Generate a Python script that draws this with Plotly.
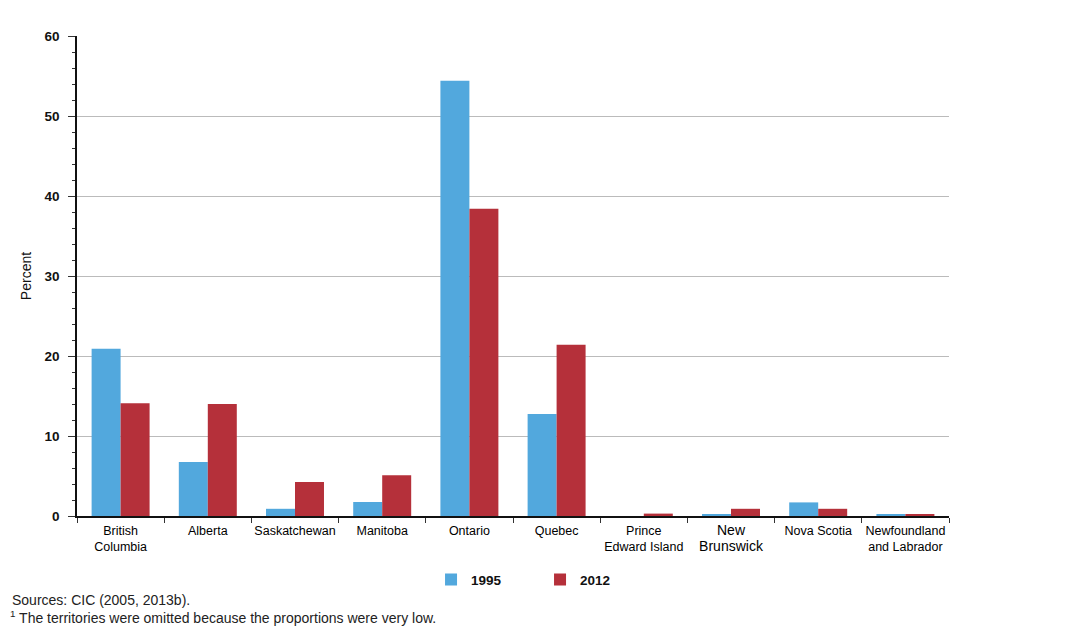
import plotly.graph_objects as go

provinces = ["British Columbia", "Alberta", "Saskatchewan", "Manitoba", "Ontario",
             "Quebec", "Prince Edward Island", "New Brunswick", "Nova Scotia",
             "Newfoundland and Labrador"]
tick_labels = ["British<br>Columbia", "Alberta", "Saskatchewan", "Manitoba", "Ontario",
               "Quebec", "Prince<br>Edward Island",
               "<span style='font-size:14px'>New<br>Brunswick</span>",
               "Nova Scotia", "Newfoundland<br>and Labrador"]
values_1995 = [20.9, 6.75, 0.9, 1.75, 54.4, 12.75, 0.0, 0.2, 1.7, 0.2]
values_2012 = [14.1, 14.0, 4.25, 5.1, 38.4, 21.4, 0.3, 0.9, 0.9, 0.2]
y_ticks = [0, 10, 20, 30, 40, 50, 60]

FONT = "Liberation Sans, Arial, Helvetica, sans-serif"

fig = go.Figure()
fig.add_trace(go.Bar(name="1995", x=provinces, y=values_1995,
                     marker=dict(color="#52a8dd", line=dict(width=0))))
fig.add_trace(go.Bar(name="2012", x=provinces, y=values_2012,
                     marker=dict(color="#b5303a", line=dict(width=0))))

fig.update_layout(
    width=1080, height=636,
    margin=dict(l=77, r=131, t=36, b=120),
    paper_bgcolor="white", plot_bgcolor="white",
    barmode="group", bargap=0.335, bargroupgap=0,
    font=dict(family=FONT, color="#111111"),
    showlegend=True,
    legend=dict(orientation="h", x=0.406, xanchor="left", y=-0.133, yanchor="middle",
                font=dict(size=13.5, family=FONT, weight="bold"),
                entrywidth=64, itemwidth=30),
)
fig.update_xaxes(
    categoryorder="array", categoryarray=provinces,
    tickmode="array", tickvals=provinces, ticktext=tick_labels,
    tickson="boundaries", ticks="outside", ticklen=5, tickcolor="#333333",
    tickangle=0,
    tickfont=dict(size=12.5, family=FONT, color="#000000"),
    ticklabelstandoff=2,
    showline=True, linecolor="#111111", linewidth=1.5,
    showgrid=False, zeroline=False,
)
fig.update_yaxes(
    range=[0, 60], tickmode="array", tickvals=y_ticks,
    ticks="outside", ticklen=7, tickcolor="#333333",
    minor=dict(dtick=2, ticks="outside", ticklen=3, tickcolor="#333333", showgrid=False),
    tickfont=dict(size=13.5, family=FONT, color="#111111", weight="bold"),
    ticklabelstandoff=6,
    showline=True, linecolor="#111111", linewidth=1.5,
    showgrid=True, gridcolor="#bbbbbb", gridwidth=1, zeroline=False,
    title=dict(text="Percent", font=dict(size=14, family=FONT, color="#111111"), standoff=10),
)

fig.add_annotation(text="Sources: CIC (2005, 2013b).", xref="paper", yref="paper",
                   x=-0.077, y=-0.175, xanchor="left", yanchor="middle", showarrow=False,
                   font=dict(size=14, family=FONT, color="#222222"))
fig.add_annotation(text="<sup>1</sup> The territories were omitted because the proportions were very low.",
                   xref="paper", yref="paper",
                   x=-0.079, y=-0.21, xanchor="left", yanchor="middle", showarrow=False,
                   font=dict(size=14, family=FONT, color="#222222"))

fig.write_html("out.html")
